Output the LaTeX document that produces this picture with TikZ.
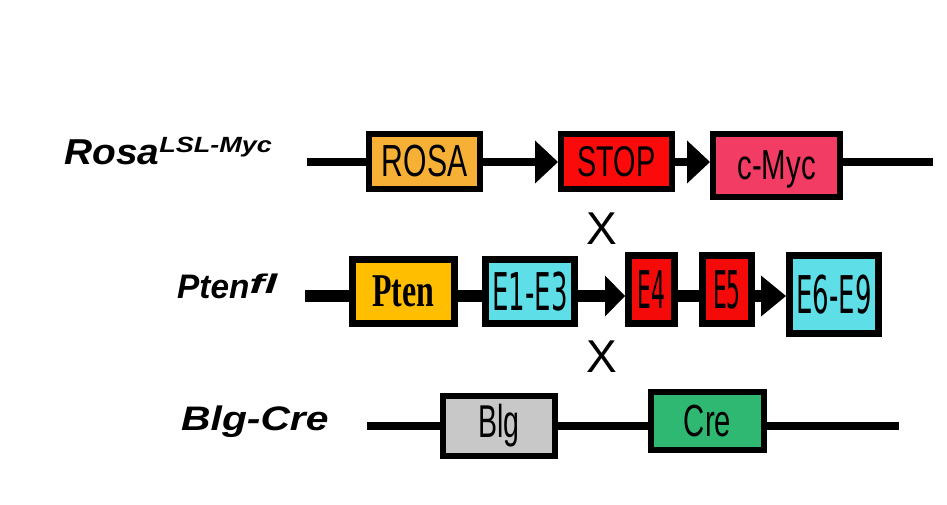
\documentclass[tikz,border=0pt]{standalone}
\usepackage{fontspec}
\setmainfont{Liberation Sans}
\newfontfamily\dvfont{DejaVu Sans}
\newfontfamily\lsfont{Liberation Serif}
\usetikzlibrary{arrows.meta}
\newcommand\gtxt[3]{\scalebox{#1}[1]{\fontsize{#2}{#2}\selectfont #3}}
\definecolor{rosaC}{HTML}{F5B035}
\definecolor{stopC}{HTML}{FA0A0A}
\definecolor{mycC}{HTML}{F23C64}
\definecolor{ptenC}{HTML}{FFBF00}
\definecolor{cyanC}{HTML}{5EDFE8}
\definecolor{exC}{HTML}{F50A0A}
\definecolor{blgC}{HTML}{C8C8C8}
\definecolor{creC}{HTML}{2EB872}
\begin{document}
\begin{tikzpicture}[x=1pt,y=-1pt,
  gene/.style={draw=black, line width=6pt, inner sep=0pt, text=black},
  gene2/.style={gene, line width=7pt},
  bbone/.style={line width=8pt, draw=black},
  bbtwo/.style={line width=12pt, draw=black},
  tipA/.style={-{Triangle[length=23pt,width=43pt,line width=0pt]}},
  tipB/.style={-{Triangle[length=20pt,width=41pt,line width=0pt]}},
  tipC/.style={-{Triangle[length=25pt,width=41pt,line width=0pt]}},
  lab/.style={anchor=base west, inner sep=0pt, font=\bfseries\itshape},
  cross/.style={inner sep=0pt, font=\fontsize{46}{46}\selectfont}
]
\useasboundingbox (0,0) rectangle (947,505);

% labels
\node[lab] (l1) at (64,165) {\gtxt{1.08}{36}{Rosa}\raisebox{12pt}{\gtxt{1.23}{22}{LSL-Myc}}};
\node[lab] (l2) at (177,298) {\gtxt{0.98}{34}{Pten}\raisebox{5pt}{\gtxt{1.7}{27}{fl}}};
\node[lab] (l3) at (181,430) {\gtxt{1.2}{34}{Blg-Cre}};

% row 1
\node[gene, fill=rosaC, minimum width=111pt, minimum height=55pt] (rosa) at (424.5,161.5) {\gtxt{0.67}{45}{ROSA}};
\node[gene, fill=stopC, minimum width=111pt, minimum height=55pt] (stop) at (616.5,161.5) {\gtxt{0.67}{43}{STOP}};
\node[gene, fill=mycC, minimum width=127pt, minimum height=63pt, text depth=0pt] (myc) at (776.5,165.5) {\gtxt{0.70}{42}{c-Myc}};
\coordinate (r1s) at (307,162);
\coordinate (r1e) at (933,162);
\draw[bbone] (r1s) -- (rosa.west |- r1s);
\draw[bbone, tipA] (rosa.east |- r1s) -- (stop.west |- r1s);
\draw[bbone, tipA] (stop.east |- r1s) -- (myc.west |- r1s);
\draw[bbone] (myc.east |- r1s) -- (r1e);

% row 2
\node[gene2, fill=ptenC, minimum width=102pt, minimum height=64pt] (pten) at (403.5,291.5) {\scalebox{0.68}[1]{\lsfont\bfseries\fontsize{47}{47}\selectfont Pten}};
\node[gene2, fill=cyanC, minimum width=89pt, minimum height=64pt] (e13) at (530,291.5) {\dvfont\gtxt{0.5}{52}{E1-E3}};
\node[gene2, fill=exC, minimum width=46pt, minimum height=68pt] (e4) at (651.5,289.5) {\dvfont\gtxt{0.42}{52}{E4}};
\node[gene2, fill=exC, minimum width=49pt, minimum height=68pt] (e5) at (727,289.5) {\dvfont\gtxt{0.42}{52}{E5}};
\node[gene2, fill=cyanC, minimum width=89pt, minimum height=78pt] (e69) at (834,294.5) {\dvfont\gtxt{0.5}{52}{E6-E9}};
\coordinate (r2s) at (305,296);
\draw[bbtwo] (r2s) -- (pten.west |- r2s);
\draw[bbtwo] (pten.east |- r2s) -- (e13.west |- r2s);
\draw[bbtwo, tipB] (e13.east |- r2s) -- (e4.west |- r2s);
\draw[bbtwo] (e4.east |- r2s) -- (e5.west |- r2s);
\draw[bbtwo, tipC] (e5.east |- r2s) -- (e69.west |- r2s);

% row 3
\node[gene, fill=blgC, minimum width=112pt, minimum height=60pt] (blg) at (499,426) {\gtxt{0.62}{46}{Blg}};
\node[gene, fill=creC, minimum width=113pt, minimum height=58pt] (cre) at (707.5,421) {\gtxt{0.65}{45}{Cre}};
\coordinate (r3s) at (367,426);
\coordinate (r3e) at (899,426);
\draw[bbone] (r3s) -- (blg.west |- r3s);
\draw[bbone] (blg.east |- r3s) -- (cre.west |- r3s);
\draw[bbone] (cre.east |- r3s) -- (r3e);

% crosses
\node[cross] (x1) at (602,229) {X};
\node[cross] (x2) at (602,357) {X};
\end{tikzpicture}
\end{document}
